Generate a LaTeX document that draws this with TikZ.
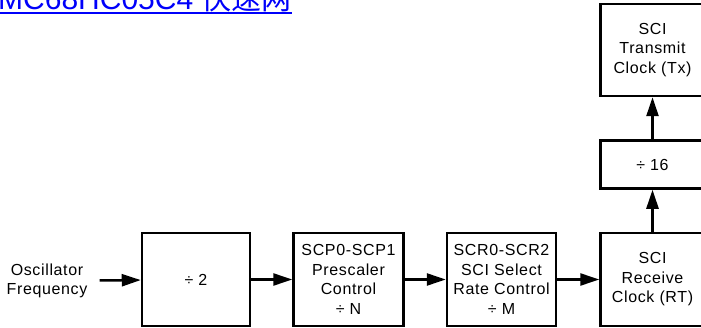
\documentclass[tikz,border=0pt]{standalone}
\usepackage{fontspec}
\setmainfont{Liberation Sans}[LetterSpace=4]
\newfontfamily\titlefont{Liberation Sans}
\newfontfamily\cjk{Noto Sans CJK SC}
\usepackage{tikz}
\usetikzlibrary{arrows.meta,positioning}
\definecolor{linkblue}{RGB}{0,0,250}

\begin{document}
\begin{tikzpicture}[
  x=1pt, y=1pt,
  node distance=41pt,
  every node/.style={font=\fontsize{16}{19.5}\selectfont, align=center},
  blk/.style={draw, line width=2.5pt, minimum height=93pt, inner sep=0pt},
  flow/.style={draw, line width=2.5pt, -{Triangle[length=19pt,width=12pt]}}
]
\useasboundingbox (0,0) rectangle (701,327);
% title, cut off at the top
\begin{scope}
\clip (0,0) rectangle (701,327);
\node[anchor=base west, inner sep=0pt, text=linkblue, font=\titlefont\fontsize{30}{30}\selectfont] (title) at (-2,317) {MC68HC05C4 {\cjk 快速网}};
\draw[linkblue, line width=2pt] (0,313.5) -- (title.east |- 0,313.5);
\end{scope}
% row of dividers
\node[inner xsep=12pt] (osc) at (47,46) {Oscillator\\Frequency};
\node[blk, minimum width=108pt] (div2) at (196,47.5) {÷ 2};
\node[blk, minimum width=110pt, right=of div2] (scp) {SCP0-SCP1\\Prescaler\\Control\\÷ N};
\node[blk, minimum width=109pt, right=of scp] (scr) {SCR0-SCR2\\SCI Select\\Rate Control\\÷ M};
\node[blk, minimum width=104pt, right=42pt of scr] (rx) {SCI\\Receive\\Clock (RT)};
% column to the transmitter
\node[blk, minimum width=104pt, minimum height=48pt, above=42pt of rx] (div16) {÷ 16};
\node[blk, minimum width=104pt, minimum height=92pt, above=42pt of div16] (tx) {SCI\\Transmit\\Clock (Tx)};
\draw[flow] (osc) -- (div2);
\draw[flow] (div2) -- (scp);
\draw[flow] (scp) -- (scr);
\draw[flow] (scr) -- (rx);
\draw[flow] (rx) -- (div16);
\draw[flow] (div16) -- (tx);
\end{tikzpicture}
\end{document}
